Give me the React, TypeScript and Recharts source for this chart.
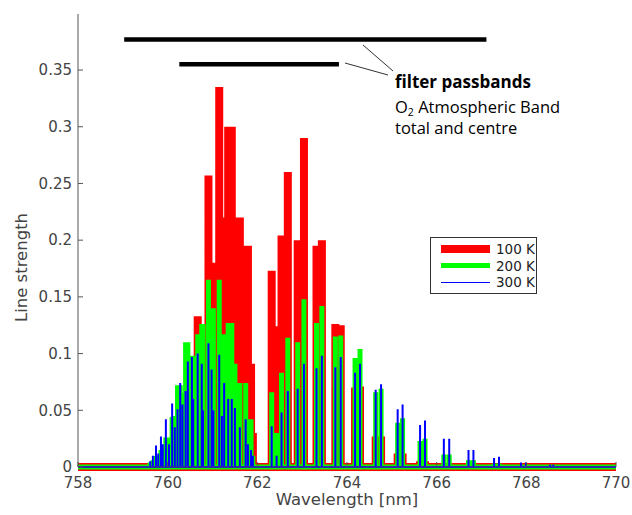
import { ComposedChart, Legend, Line, XAxis, YAxis } from "recharts";

// O2 A-band line positions (nm), R branch then P branch
const wavelengths = [
  759.61, 759.67, 759.74, 759.79, 759.85, 759.89, 759.96, 760.03, 760.1, 760.16,
  760.22, 760.28, 760.33, 760.4, 760.45, 760.54, 760.57, 760.67, 760.76, 760.79,
  760.91, 760.98, 761.02, 761.15, 761.21, 761.26, 761.35, 761.43, 761.5, 761.61,
  761.74, 761.79, 761.86, 761.9,
  762.32, 762.43, 762.54, 762.68, 762.9, 763.04, 763.32, 763.44, 763.74, 763.86,
  764.18, 764.29, 764.64, 764.76, 765.13, 765.24, 765.63, 765.74, 766.16, 766.28,
  766.71, 766.82, 767.28, 767.39, 767.88, 767.99, 768.53, 768.6,
];

const strength100K = [
  0.002, 0.003, 0.004, 0.004, 0.006, 0.006, 0.01, 0.01, 0.02, 0.02,
  0.03, 0.03, 0.03, 0.05, 0.05, 0.06, 0.06, 0.133, 0.123, 0.123,
  0.257, 0.18, 0.18, 0.335, 0.22, 0.22, 0.3, 0.3, 0.22, 0.22,
  0.195, 0.195, 0.091, 0.03,
  0.173, 0.124, 0.204, 0.26, 0.2, 0.29, 0.195, 0.2, 0.126, 0.125,
  0.07, 0.071, 0.027, 0.027, 0.012, 0.012, 0.005, 0.005, 0.002, 0.002,
  0.001, 0.001, 0, 0, 0, 0, 0, 0,
];

const strength200K = [
  0.004, 0.006, 0.01, 0.008, 0.015, 0.012, 0.026, 0.026, 0.044, 0.045,
  0.072, 0.072, 0.065, 0.11, 0.11, 0.098, 0.098, 0.117, 0.126, 0.126,
  0.165, 0.14, 0.14, 0.165, 0.117, 0.117, 0.127, 0.127, 0.091, 0.074,
  0.074, 0.042, 0.042, 0.01,
  0.066, 0.03, 0.083, 0.114, 0.11, 0.148, 0.127, 0.142, 0.115, 0.116,
  0.096, 0.104, 0.066, 0.069, 0.039, 0.043, 0.023, 0.025, 0.011, 0.011,
  0.006, 0.006, 0.003, 0.003, 0.001, 0.001, 0, 0,
];

const strength300K = [
  0.005, 0.01, 0.019, 0.012, 0.027, 0.02, 0.042, 0.02, 0.056, 0.035,
  0.051, 0.074, 0.055, 0.067, 0.093, 0.097, 0.06, 0.1, 0.091, 0.05,
  0.109, 0.086, 0.05, 0.099, 0.045, 0.074, 0.06, 0.06, 0.052, 0.035,
  0.042, 0.02, 0.015, 0.01,
  0.036, 0.01, 0.048, 0.067, 0.069, 0.091, 0.087, 0.098, 0.088, 0.097,
  0.083, 0.091, 0.068, 0.073, 0.051, 0.055, 0.037, 0.041, 0.025, 0.025,
  0.015, 0.015, 0.008, 0.009, 0.004, 0.004, 0.002, 0.002,
];

const xTicks = [758, 760, 762, 764, 766, 768, 770];
const yTicks = [0, 0.05, 0.1, 0.15, 0.2, 0.25, 0.3, 0.35];

// filter passbands: [start, end] in nm, drawn at a fixed height
const totalBand = [759.03, 767.11];
const centreBand = [760.26, 763.82];
const bandLevels = [0.377, 0.355];

const series = [
  { name: "100 K", values: strength100K, color: "#ff0000", width: 8, legendWidth: 8 },
  { name: "200 K", values: strength200K, color: "#00ff00", width: 5, legendWidth: 5 },
  { name: "300 K", values: strength300K, color: "#0000ff", width: 2, legendWidth: 1 },
];

// each line is drawn as a vertical spike up from the baseline
function spectrum(values: number[]) {
  const pts = [{ x: 758, y: 0 }];
  wavelengths.forEach((w, i) => {
    pts.push({ x: w, y: 0 }, { x: w, y: values[i] }, { x: w, y: 0 });
  });
  pts.push({ x: 770, y: 0 });
  return pts;
}

const axisColor = "#555";
const textColor = "#444";
const tickStyle = { fontSize: 15, fill: textColor, fontFamily: "DejaVu Sans" };

function LegendBox() {
  return (
    <div
      style={{
        width: 107,
        height: 57,
        boxSizing: "border-box",
        border: "1px solid #333",
        background: "#fff",
        paddingTop: 3,
        fontFamily: "DejaVu Sans",
        fontSize: 13.5,
        color: "#222",
        whiteSpace: "nowrap",
        overflow: "visible",
      }}
    >
      {series.map((s) => (
        <div key={s.name} style={{ display: "flex", alignItems: "center", height: 16.5 }}>
          <div style={{ marginLeft: 10, width: 49, flex: "none", height: s.legendWidth, background: s.color }} />
          <span style={{ marginLeft: 6, flex: "none" }}>{s.name}</span>
        </div>
      ))}
    </div>
  );
}

export default function App() {
  return (
    <div style={{ position: "relative", width: 632, height: 515, fontFamily: "DejaVu Sans" }}>
      <style>{`body { margin: 0; }`}</style>
      <ComposedChart width={632} height={515} margin={{ top: 14, right: 16, bottom: 0, left: 0 }}>
        <XAxis
          dataKey="x"
          type="number"
          domain={[758, 770]}
          ticks={xTicks}
          height={48}
          tickSize={-5}
          tickMargin={15}
          tick={tickStyle}
          stroke={axisColor}
          label={{ value: "Wavelength [nm]", position: "insideBottom", offset: 10, fill: textColor, fontSize: 16.5 }}
        />
        <XAxis
          xAxisId="top"
          orientation="top"
          type="number"
          domain={[758, 770]}
          ticks={xTicks}
          height={0}
          tickSize={-5}
          tickFormatter={() => ""}
          stroke={axisColor}
        />
        <YAxis
          type="number"
          domain={[0, 0.3994]}
          ticks={yTicks}
          width={78}
          tickSize={-5}
          tickMargin={11}
          tick={tickStyle}
          stroke={axisColor}
          label={{
            value: "Line strength",
            angle: -90,
            position: "insideLeft",
            offset: 21,
            dy: 27,
            fill: textColor,
            fontSize: 16.5,
            style: { textAnchor: "middle" },
          }}
        />
        <YAxis
          yAxisId="right"
          orientation="right"
          type="number"
          domain={[0, 0.3994]}
          ticks={yTicks}
          width={0}
          tickSize={-5}
          tickFormatter={() => ""}
          stroke={axisColor}
        />
        {series.map((s) => (
          <Line
            key={s.name}
            name={s.name}
            data={spectrum(s.values)}
            dataKey="y"
            type="linear"
            stroke={s.color}
            strokeWidth={s.width}
            dot={false}
            activeDot={false}
            isAnimationActive={false}
          />
        ))}
        <Line
          data={[
            { x: totalBand[0], y: bandLevels[0] },
            { x: totalBand[1], y: bandLevels[0] },
          ]}
          dataKey="y"
          stroke="#000"
          strokeWidth={4.5}
          dot={false}
          activeDot={false}
          legendType="none"
          isAnimationActive={false}
        />
        <Line
          data={[
            { x: centreBand[0], y: bandLevels[1] },
            { x: centreBand[1], y: bandLevels[1] },
          ]}
          dataKey="y"
          stroke="#000"
          strokeWidth={4.5}
          dot={false}
          activeDot={false}
          legendType="none"
          isAnimationActive={false}
        />
        <Legend
          layout="vertical"
          align="center"
          verticalAlign="middle"
          wrapperStyle={{ left: 430, top: 237, width: 107 }}
          content={() => <LegendBox />}
        />
      </ComposedChart>
      <svg
        width={632}
        height={515}
        style={{ position: "absolute", left: 0, top: 0, pointerEvents: "none" }}
      >
        <line x1={363} y1={45} x2={393} y2={71} stroke="#333" strokeWidth={1} />
        <line x1={345} y1={63} x2={388} y2={75} stroke="#333" strokeWidth={1} />
        <g fontFamily="Open Sans" fill="#000">
          <text x={395} y={88} fontSize={17} fontWeight={700}>
            filter passbands
          </text>
          <text x={395} y={112.5} fontSize={16.5}>
            O
            <tspan dy={3.5} fontSize={10.5}>
              2
            </tspan>
            <tspan dy={-3.5}> Atmospheric Band</tspan>
          </text>
          <text x={395} y={134} fontSize={16.5}>
            total and centre
          </text>
        </g>
      </svg>
    </div>
  );
}
